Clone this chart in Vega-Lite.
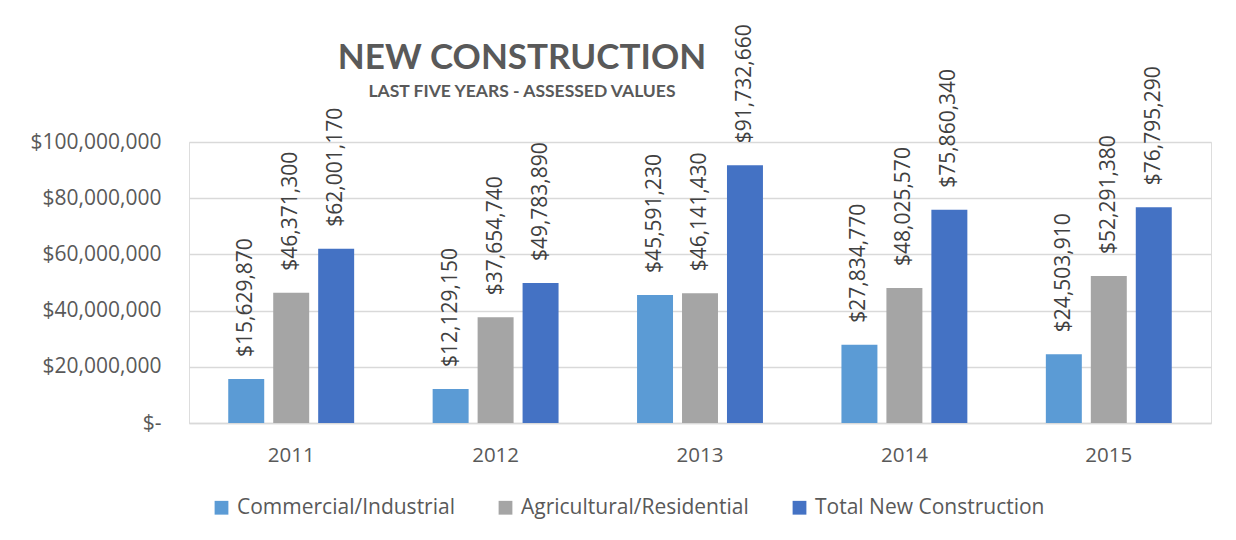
{
  "$schema": "https://vega.github.io/schema/vega-lite/v6.json",
  "width": 1022,
  "height": 281,
  "autosize": {"type": "none"},
  "padding": {"left": 189, "top": 142, "right": 25, "bottom": 117},
  "background": "white",
  "title": {
    "text": "NEW CONSTRUCTION",
    "subtitle": "LAST FIVE YEARS - ASSESSED VALUES",
    "anchor": "middle",
    "dx": -178,
    "offset": -76,
    "font": "Lato",
    "fontSize": 35,
    "fontWeight": "bold",
    "color": "#595959",
    "subtitleFont": "Lato",
    "subtitleFontSize": 17.5,
    "subtitleFontWeight": "bold",
    "subtitleColor": "#595959",
    "subtitlePadding": 7
  },
  "data": {
    "values": [
      {"year": "2011", "series": "Commercial/Industrial", "value": 15629870},
      {"year": "2011", "series": "Agricultural/Residential", "value": 46371300},
      {"year": "2011", "series": "Total New Construction", "value": 62001170},
      {"year": "2012", "series": "Commercial/Industrial", "value": 12129150},
      {"year": "2012", "series": "Agricultural/Residential", "value": 37654740},
      {"year": "2012", "series": "Total New Construction", "value": 49783890},
      {"year": "2013", "series": "Commercial/Industrial", "value": 45591230},
      {"year": "2013", "series": "Agricultural/Residential", "value": 46141430},
      {"year": "2013", "series": "Total New Construction", "value": 91732660},
      {"year": "2014", "series": "Commercial/Industrial", "value": 27834770},
      {"year": "2014", "series": "Agricultural/Residential", "value": 48025570},
      {"year": "2014", "series": "Total New Construction", "value": 75860340},
      {"year": "2015", "series": "Commercial/Industrial", "value": 24503910},
      {"year": "2015", "series": "Agricultural/Residential", "value": 52291380},
      {"year": "2015", "series": "Total New Construction", "value": 76795290}
    ]
  },
  "encoding": {
    "x": {
      "field": "year",
      "type": "nominal",
      "scale": {"paddingInner": 0.34, "paddingOuter": 0.17},
      "axis": {
        "title": null,
        "labelAngle": 0,
        "labelFont": "Open Sans",
        "labelFontSize": 20.5,
        "labelColor": "#595959",
        "labelPadding": 22,
        "ticks": false,
        "domainColor": "#d9d9d9",
        "domainWidth": 1.5
      }
    },
    "xOffset": {
      "field": "series",
      "type": "nominal",
      "sort": ["Commercial/Industrial", "Agricultural/Residential", "Total New Construction"],
      "scale": {"paddingInner": 0.2, "paddingOuter": 0.1}
    },
    "y": {
      "field": "value",
      "type": "quantitative",
      "scale": {"domain": [0, 100000000], "nice": false},
      "axis": {
        "title": null,
        "values": [0, 20000000, 40000000, 60000000, 80000000, 100000000],
        "labelExpr": "datum.value == 0 ? '$-' : format(datum.value, '$,')",
        "labelFont": "Open Sans",
        "labelFontSize": 21,
        "labelColor": "#595959",
        "labelPadding": 28,
        "ticks": false,
        "domain": false,
        "gridColor": "#d9d9d9",
        "gridWidth": 1.5
      }
    }
  },
  "layer": [
    {
      "mark": {"type": "bar"},
      "encoding": {
        "color": {
          "field": "series",
          "type": "nominal",
          "sort": ["Commercial/Industrial", "Agricultural/Residential", "Total New Construction"],
          "scale": {
            "domain": ["Commercial/Industrial", "Agricultural/Residential", "Total New Construction"],
            "range": ["#5B9BD5", "#A5A5A5", "#4472C4"]
          },
          "legend": {
            "title": null,
            "orient": "none",
            "direction": "horizontal",
            "legendX": 22,
            "legendY": 355,
            "symbolType": "square",
            "symbolSize": 190,
            "symbolStrokeWidth": 0,
            "labelFont": "Open Sans",
            "labelFontSize": 21,
            "labelColor": "#595959",
            "labelLimit": 400,
            "columnPadding": 40,
            "labelOffset": 5
          }
        }
      }
    },
    {
      "mark": {
        "type": "text",
        "angle": 270,
        "align": "left",
        "baseline": "middle",
        "dx": 22,
        "font": "Open Sans",
        "fontSize": 21,
        "color": "#404040"
      },
      "encoding": {
        "text": {"field": "value", "type": "quantitative", "format": "$,"}
      }
    }
  ]
}
